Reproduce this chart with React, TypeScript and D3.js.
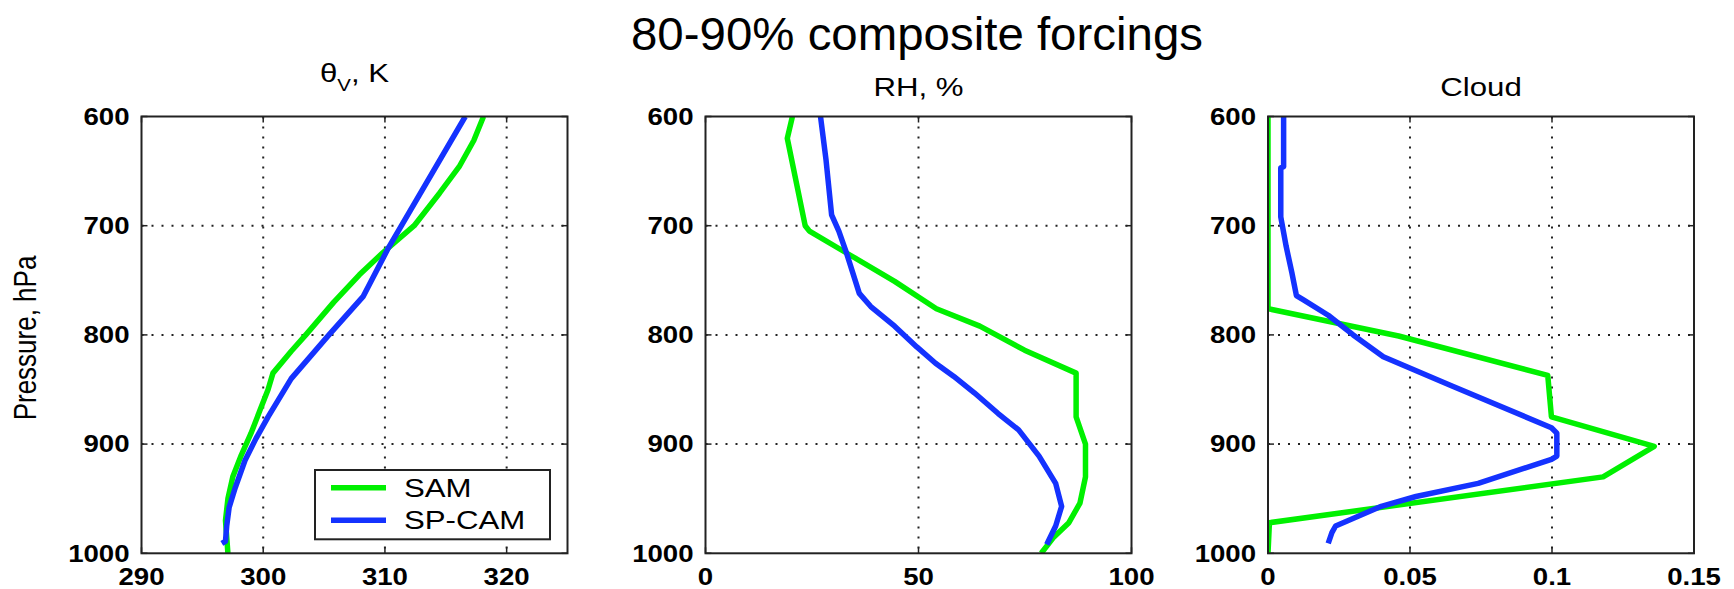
import * as d3 from 'd3';
import React from 'react';

// pressure levels (hPa) and values
const pressureTicks = [600, 700, 800, 900, 1000];
const thetaTicks = [290, 300, 310, 320];
const rhTicks = [0, 50, 100];
const cloudTicks = [0, 0.05, 0.1, 0.15];
const cloudTickLabels = ['0', '0.05', '0.1', '0.15'];
const seriesNames = ['SAM', 'SP-CAM'];

// [pressure, value]
const samTheta: [number, number][] = [
  [600, 318.1], [622, 317.3], [646, 316.1], [670, 314.5], [700, 312.4], [725, 309.8],
  [745, 307.9], [770, 305.8], [800, 303.5], [815, 302.3], [835, 300.8], [850, 300.4],
  [870, 299.7], [890, 299.0], [910, 298.2], [930, 297.5], [950, 297.1], [970, 296.9],
  [1000, 297.1],
];
const spcamTheta: [number, number][] = [
  [600, 316.6], [720, 310.3], [765, 308.2], [800, 305.4], [840, 302.3], [875, 300.4],
  [895, 299.4], [915, 298.5], [940, 297.7], [958, 297.2], [975, 297.0], [989, 296.9],
  [991, 296.6],
];
const samRH: [number, number][] = [
  [600, 20.4], [620, 19.2], [700, 23.4], [705, 24.4], [725, 33.1], [751, 44.4],
  [776, 54.2], [792, 64.4], [814, 74.9], [835, 87.0], [875, 87.0], [900, 89.2],
  [930, 89.2], [954, 87.9], [972, 85.3], [985, 81.8], [1000, 78.8],
];
const spcamRH: [number, number][] = [
  [600, 27.0], [640, 28.3], [690, 29.6], [705, 31.3], [725, 33.1], [762, 36.1],
  [774, 38.8], [792, 44.4], [811, 49.6], [826, 54.0], [838, 58.3], [853, 63.1],
  [872, 68.7], [887, 73.5], [911, 78.3], [936, 82.2], [957, 83.6], [975, 82.2],
  [992, 80.1],
];
const samCloud: [number, number][] = [
  [600, 0], [776, 0], [801, 0.046], [837, 0.0985], [875, 0.0998], [902, 0.136],
  [930, 0.118], [972, 0.0005], [1000, 0],
];
const spcamCloud: [number, number][] = [
  [600, 0.0055], [646, 0.0055], [647, 0.0045], [692, 0.0045], [719, 0.0064],
  [743, 0.0084], [764, 0.01], [768, 0.0125], [782, 0.0212], [800, 0.03], [820, 0.0406],
  [847, 0.065], [885, 0.0998], [890, 0.1017], [911, 0.1017], [914, 0.0998], [936, 0.074],
  [948, 0.0521], [957, 0.0399], [975, 0.0238], [981, 0.0225], [991, 0.0212],
];

const W = 1734;
const H = 589;
const plotTop = 116.5;
const plotBottom = 553.3;
const plotWidth = 426;
const font = 'Liberation Sans, Arial, Helvetica, sans-serif';
const sx = 1.2; // the original figure is stretched horizontally
const green = '#00f000';
const blue = '#1432ff';
const ink = '#222';

const yScale = d3.scaleLinear().domain([600, 1000]).range([plotTop, plotBottom]);

type TextProps = {
  x: number;
  y: number;
  size: number;
  anchor?: string;
  weight?: string;
  rotate?: number;
  children: React.ReactNode;
};

function SText({ x, y, size, anchor = 'middle', weight = 'normal', rotate, children }: TextProps) {
  const rot = rotate ? ` rotate(${rotate})` : '';
  return (
    <text
      transform={`translate(${x},${y}) scale(${sx},1)${rot}`}
      fontFamily={font}
      fontSize={size}
      fontWeight={weight}
      textAnchor={anchor}
      fill="#000"
    >
      {children}
    </text>
  );
}

type PanelProps = {
  id: string;
  left: number;
  xDomain: [number, number];
  xTicks: number[];
  xTickLabels: string[];
  sam: [number, number][];
  spcam: [number, number][];
  title: React.ReactNode;
  titleY: number;
};

function Panel({ id, left, xDomain, xTicks, xTickLabels, sam, spcam, title, titleY }: PanelProps) {
  const xScale = d3.scaleLinear().domain(xDomain).range([left, left + plotWidth]);
  const line = d3
    .line<[number, number]>()
    .x((d) => xScale(d[1]))
    .y((d) => yScale(d[0]));
  const right = left + plotWidth;
  const tickLen = 6;

  return (
    <g>
      <defs>
        <clipPath id={id}>
          <rect x={left} y={plotTop} width={plotWidth} height={plotBottom - plotTop} />
        </clipPath>
      </defs>
      <rect x={left} y={plotTop} width={plotWidth} height={plotBottom - plotTop} fill="#fff" />
      {/* dotted grid */}
      {xTicks
        .filter((t) => t > xDomain[0] && t < xDomain[1])
        .map((t) => (
          <line
            key={'gx' + t}
            x1={xScale(t)}
            x2={xScale(t)}
            y1={plotTop}
            y2={plotBottom}
            stroke={ink}
            strokeWidth={2}
            strokeDasharray="2 8"
          />
        ))}
      {pressureTicks
        .filter((t) => t > 600 && t < 1000)
        .map((t) => (
          <line
            key={'gy' + t}
            x1={left}
            x2={right}
            y1={yScale(t)}
            y2={yScale(t)}
            stroke={ink}
            strokeWidth={2}
            strokeDasharray="2 8"
          />
        ))}
      {/* inner tick marks on all four sides */}
      {xTicks.map((t) => (
        <g key={'tx' + t}>
          <line x1={xScale(t)} x2={xScale(t)} y1={plotBottom} y2={plotBottom - tickLen} stroke={ink} strokeWidth={1.5} />
          <line x1={xScale(t)} x2={xScale(t)} y1={plotTop} y2={plotTop + tickLen} stroke={ink} strokeWidth={1.5} />
        </g>
      ))}
      {pressureTicks.map((t) => (
        <g key={'ty' + t}>
          <line x1={left} x2={left + tickLen} y1={yScale(t)} y2={yScale(t)} stroke={ink} strokeWidth={1.5} />
          <line x1={right} x2={right - tickLen} y1={yScale(t)} y2={yScale(t)} stroke={ink} strokeWidth={1.5} />
        </g>
      ))}
      <g clipPath={`url(#${id})`}>
        <path d={line(sam) ?? ''} fill="none" stroke={green} strokeWidth={5.5} strokeLinejoin="round" />
        <path d={line(spcam) ?? ''} fill="none" stroke={blue} strokeWidth={5.5} strokeLinejoin="round" />
      </g>
      <rect
        x={left}
        y={plotTop}
        width={plotWidth}
        height={plotBottom - plotTop}
        fill="none"
        stroke={ink}
        strokeWidth={2}
      />
      {/* tick labels */}
      {xTicks.map((t, i) => (
        <SText key={'lx' + t} x={xScale(t)} y={584.5} size={23} weight="bold">
          {xTickLabels[i]}
        </SText>
      ))}
      {pressureTicks.map((t) => (
        <SText key={'ly' + t} x={left - 12} y={yScale(t) + 8.3} size={23} weight="bold" anchor="end">
          {t}
        </SText>
      ))}
      <SText x={left + plotWidth / 2} y={titleY} size={26}>
        {title}
      </SText>
    </g>
  );
}

export default function App() {
  const lefts = [141.5, 705.5, 1268];
  const legend = { x: 315, y: 470, w: 235, h: 69.3 };
  return (
    <div style={{ position: 'absolute', left: 0, top: 0 }}>
      <svg width={W} height={H} style={{ display: 'block', background: '#fff' }}>
        <rect width={W} height={H} fill="#fff" />
        <text x={917} y={50} fontFamily={font} fontSize={47} textAnchor="middle" textLength={572} lengthAdjust="spacingAndGlyphs">
          80-90% composite forcings
        </text>
        <Panel
          id="c1"
          left={lefts[0]}
          xDomain={[290, 325]}
          xTicks={thetaTicks}
          xTickLabels={thetaTicks.map(String)}
          sam={samTheta}
          spcam={spcamTheta}
          titleY={82}
          title={
            <>
              θ
              <tspan fontSize={17} dy={9}>
                V
              </tspan>
              <tspan dy={-9}>, K</tspan>
            </>
          }
        />
        <Panel
          id="c2"
          left={lefts[1]}
          xDomain={[0, 100]}
          xTicks={rhTicks}
          xTickLabels={rhTicks.map(String)}
          sam={samRH}
          spcam={spcamRH}
          titleY={96}
          title="RH, %"
        />
        <Panel
          id="c3"
          left={lefts[2]}
          xDomain={[0, 0.15]}
          xTicks={cloudTicks}
          xTickLabels={cloudTickLabels}
          sam={samCloud}
          spcam={spcamCloud}
          titleY={96}
          title="Cloud"
        />
        <SText x={36} y={338} size={26} rotate={-90}>
          Pressure, hPa
        </SText>
        {/* legend */}
        <rect x={legend.x} y={legend.y} width={legend.w} height={legend.h} fill="#fff" stroke={ink} strokeWidth={2} />
        {seriesNames.map((name, i) => {
          const ly = legend.y + 17.7 + i * 32.6;
          return (
            <g key={name}>
              <line x1={legend.x + 16} x2={legend.x + 71} y1={ly} y2={ly} stroke={i === 0 ? green : blue} strokeWidth={5.5} />
              <SText x={legend.x + 89} y={ly + 9} size={26} anchor="start">
                {name}
              </SText>
            </g>
          );
        })}
      </svg>
    </div>
  );
}
